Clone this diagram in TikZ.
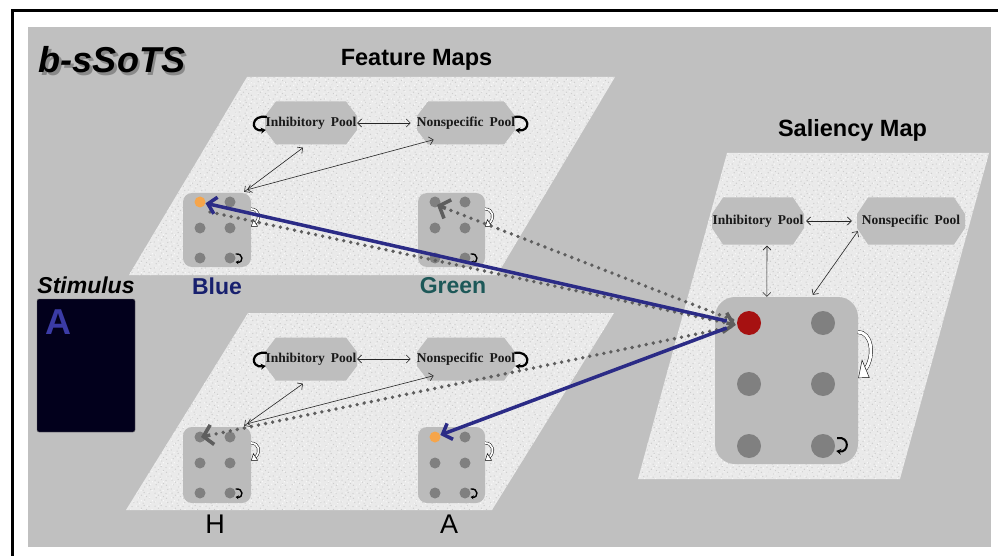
\documentclass[tikz,border=0pt]{standalone}
\usepackage{fontspec}
\setmainfont{Liberation Serif}
\newfontfamily\arialfont{Liberation Sans}
\usetikzlibrary{arrows.meta,calc,patterns}

\definecolor{bggray}{HTML}{C0C0C0}
\definecolor{paper}{HTML}{EAEAEA}
\definecolor{speckdark}{HTML}{CDCDCD}
\definecolor{specklight}{HTML}{FAFAFA}
\definecolor{poolgray}{HTML}{BEBEBE}
\definecolor{boxgray}{HTML}{BBBBBB}
\definecolor{dotgray}{HTML}{808080}
\definecolor{activeorange}{HTML}{F6A54B}
\definecolor{winred}{HTML}{A61111}
\definecolor{navyline}{HTML}{2B2B86}
\definecolor{dotline}{HTML}{5E5E5E}
\definecolor{bluelabel}{HTML}{18206E}
\definecolor{greenlabel}{HTML}{1D5858}
\definecolor{stimbg}{HTML}{02001C}
\definecolor{stimletter}{HTML}{3B3BA6}

% speckle tiles for the granite planes
\pgfdeclarepatternformonly{granitedark}{\pgfqpoint{0pt}{0pt}}{\pgfqpoint{17pt}{13pt}}{\pgfqpoint{17pt}{13pt}}{%
  \foreach \px/\py in {1.3/2.1,5.7/9.4,9.2/4.3,13.8/11.2,15.6/1.7,3.4/6.8,11.1/8.0,7.5/0.9,14.2/6.1,2.2/11.6,8.6/12.3}{%
    \pgfpathcircle{\pgfqpoint{\px pt}{\py pt}}{0.7pt}}%
  \pgfusepath{fill}}
\pgfdeclarepatternformonly{granitelight}{\pgfqpoint{0pt}{0pt}}{\pgfqpoint{11pt}{19pt}}{\pgfqpoint{11pt}{19pt}}{%
  \foreach \px/\py in {2.1/3.3,7.4/1.2,9.8/8.7,4.6/12.5,1.2/16.9,8.3/15.4,5.5/6.4,10.2/18.1}{%
    \pgfpathcircle{\pgfqpoint{\px pt}{\py pt}}{0.75pt}}%
  \pgfusepath{fill}}

\tikzset{
  pooltext/.style={font=\fontsize{13.5}{15}\selectfont\bfseries, text=black!90, inner sep=0pt},
  unitbox/.style={fill=boxgray, rounded corners=9pt, inner sep=0pt},
  unit/.style={circle, fill=dotgray, inner sep=0pt, minimum size=11pt},
  bigunit/.style={circle, fill=dotgray, inner sep=0pt, minimum size=24pt},
  linkarrow/.style={draw=black!85, line width=0.6pt,
    {Straight Barb[length=4pt,width=8pt]}-{Straight Barb[length=4pt,width=8pt]}},
  selfloop/.style={line width=2.2pt, -{Stealth[length=5pt,width=6pt]}},
  smallloop/.style={line width=1.4pt, -{Stealth[length=3pt,width=4pt]}},
  bluearrow/.style={draw=navyline, line width=3.5pt,
    -{Straight Barb[length=8pt,width=17pt]}},
  dotlink/.style={draw=dotline, line width=3.8pt, line cap=round,
    dash pattern=on 0pt off 7.2pt},
  chevtip/.style={draw=dotline, solid, line width=3.6pt,
    -{Straight Barb[length=9pt,width=20pt]}},
  maplabel/.style={font=\arialfont\bfseries\fontsize{23}{27}\selectfont, inner sep=0pt},
  title/.style={font=\arialfont\bfseries\fontsize{23.5}{28}\selectfont, inner sep=0pt},
}

% granite map plane: x0, y0, width, height, skew of the lower edge
\newcommand\granite[5]{%
  \path[fill=paper] (#1,#2) -- ({#1+#3},#2) -- ({#1+#3-#5},{#2+#4}) -- ({#1-#5},{#2+#4}) -- cycle;
  \path[pattern=granitedark, pattern color=speckdark] (#1,#2) -- ({#1+#3},#2) -- ({#1+#3-#5},{#2+#4}) -- ({#1-#5},{#2+#4}) -- cycle;
  \path[pattern=granitelight, pattern color=specklight] (#1,#2) -- ({#1+#3},#2) -- ({#1+#3-#5},{#2+#4}) -- ({#1-#5},{#2+#4}) -- cycle;}

% octagonal pool: name, cx, cy, half width, half height, width, label
\newcommand\poolshape[7]{%
  \fill[poolgray] ({#2-#4},{#3-7}) -- ({#2-#4+11},{#3-#5}) -- ({#2+#4-11},{#3-#5})
    -- ({#2+#4},{#3-7}) -- ({#2+#4},{#3+7}) -- ({#2+#4-11},{#3+#5})
    -- ({#2-#4+11},{#3+#5}) -- ({#2-#4},{#3+7}) -- cycle;
  \node[pooltext, minimum width=#6, minimum height=2*#5] (#1) at (#2,#3) {#7};}

% hollow recurrent arrow beside a unit block: x, y, xscale, yscale, gap
\newcommand\hollowcurl[5]{%
  \begin{scope}[shift={(#1,#2)}, xscale=#3, yscale=#4]
    \draw[line width=0.45pt, double=white, double distance=#5] (0,0) .. controls (8,0) and (10,8) .. (4.5,12.7);
    \filldraw[fill=white, draw=black, line width=0.45pt] (6.6,15.7) -- (2.4,9.7) -- (0.3,15.8) -- cycle;
  \end{scope}}

% dotted projection from one point to another, ending in a solid grey chevron
\newcommand\dotproj[2]{%
  \draw[dotlink] (#1) -- ($(#2)!9pt!(#1)$);
  \draw[chevtip] ($(#2)!9.5pt!(#1)$) -- (#2);}

\newcommand\inh{Inhibitory\hspace{0.45em}Pool}
\newcommand\nsp{Nonspecific\hspace{0.45em}Pool}

\begin{document}
\begin{tikzpicture}[x=1pt,y=-1pt]
\useasboundingbox (0,0) rectangle (998,556);
\fill[white] (0,0) rectangle (998,556);
\fill[bggray] (28,27) rectangle (991,547);
\draw[line width=2.6pt] (12.2,556) -- (12.2,10.7) -- (998,10.7);

\granite{247}{77}{368}{198}{118}
\granite{248}{313}{366}{197}{122}
\granite{727}{153}{262}{326}{89}

% titles
\node[font=\arialfont\bfseries\itshape\fontsize{36}{40}\selectfont, text=black!55, opacity=0.7, inner sep=0pt] at (114.5,62.5) {b-sSoTS};
\node[font=\arialfont\bfseries\itshape\fontsize{36}{40}\selectfont, inner sep=0pt] (model) at (112,60) {b-sSoTS};
\node[title] (ftitle) at (416.5,60) {Feature Maps};
\node[title] (stitle) at (852.5,130) {Saliency Map};

% stimulus
\node[font=\arialfont\bfseries\itshape\fontsize{23}{27}\selectfont, inner sep=0pt] (stimlabel) at (86,285) {Stimulus};
\node[fill=stimbg, draw=black!60, line width=0.4pt, rounded corners=2pt, minimum width=98pt, minimum height=133pt, inner sep=0pt] (stim) at (86,365.5) {};
\node[font=\arialfont\bfseries\fontsize{36}{40}\selectfont, text=stimletter, inner sep=0pt] (stimA) at (58,322) {A};

% map labels
\node[maplabel, text=bluelabel] (lblue) at (217,286) {Blue};
\node[maplabel, text=greenlabel] (lgreen) at (453,286) {Green};
\node[font=\arialfont\fontsize{27}{30}\selectfont, inner sep=0pt] (lh) at (215,524) {H};
\node[font=\arialfont\fontsize{27}{30}\selectfont, inner sep=0pt] (la) at (449,524) {A};

% ---------- colour feature map ----------
\poolshape{ip1}{311}{123}{46}{21.5}{92pt}{\inh}
\poolshape{np1}{466}{123}{49}{21.5}{98pt}{\nsp}
\node[unitbox, minimum width=68pt, minimum height=74pt] (bbox) at (217,230) {};
\node[unitbox, minimum width=67pt, minimum height=74pt] (gbox) at (451.5,230) {};
\node[unit, fill=activeorange] (b1) at (200,202) {};
\node[unit] (b2) at (230,202) {};
\node[unit] (b3) at (200,228) {};
\node[unit] (b4) at (230,228) {};
\node[unit] (b5) at (200,258) {};
\node[unit] (b6) at (230,258) {};
\node[unit] (g1) at (435,202) {};
\node[unit] (g2) at (465,202) {};
\node[unit] (g3) at (435,228) {};
\node[unit] (g4) at (465,228) {};
\node[unit] (g5) at (435,258) {};
\node[unit] (g6) at (465,258) {};

\draw[selfloop] ($(ip1.west)+(2,-6)$) .. controls +(-16,-3) and +(-16,2) .. ($(ip1.west)+(1,7)$);
\draw[selfloop] ($(np1.east)+(-1,-6)$) .. controls +(16,-3) and +(16,2) .. ($(np1.east)+(0,7)$);
\draw[linkarrow, shorten >=6pt] (ip1.east) -- (np1.west);
\draw[linkarrow] ($(ip1.south)+(-8,3)$) -- ($(bbox.north east)+(-7,-1)$);
\draw[linkarrow] ($(np1.south west)+(17,-5)$) -- ($(bbox.north east)+(-4,-3)$);
\hollowcurl{251}{209}{1}{1.1}{1.8pt}
\hollowcurl{485}{209}{1}{1.1}{1.8pt}
\draw[smallloop] ($(b6.east)+(0,-4)$) .. controls +(8,-1) and +(8,1) .. ($(b6.east)+(0,4)$);
\draw[smallloop] ($(g6.east)+(0,-4)$) .. controls +(8,-1) and +(8,1) .. ($(g6.east)+(0,4)$);

% ---------- letter feature map ----------
\poolshape{ip2}{311}{359}{46}{21.5}{92pt}{\inh}
\poolshape{np2}{466}{359}{49}{21.5}{98pt}{\nsp}
\node[unitbox, minimum width=68pt, minimum height=76pt] (hbox) at (217,465) {};
\node[unitbox, minimum width=67pt, minimum height=76pt] (abox) at (451.5,465) {};
\node[unit] (h1) at (200,437) {};
\node[unit] (h2) at (230,437) {};
\node[unit] (h3) at (200,463) {};
\node[unit] (h4) at (230,463) {};
\node[unit] (h5) at (200,493) {};
\node[unit] (h6) at (230,493) {};
\node[unit, fill=activeorange] (a1) at (435,437) {};
\node[unit] (a2) at (465,437) {};
\node[unit] (a3) at (435,463) {};
\node[unit] (a4) at (465,463) {};
\node[unit] (a5) at (435,493) {};
\node[unit] (a6) at (465,493) {};

\draw[selfloop] ($(ip2.west)+(2,-6)$) .. controls +(-16,-3) and +(-16,2) .. ($(ip2.west)+(1,7)$);
\draw[selfloop] ($(np2.east)+(-1,-6)$) .. controls +(16,-3) and +(16,2) .. ($(np2.east)+(0,7)$);
\draw[linkarrow, shorten >=6pt] (ip2.east) -- (np2.west);
\draw[linkarrow] ($(ip2.south)+(-8,3)$) -- ($(hbox.north east)+(-7,-1)$);
\draw[linkarrow] ($(np2.south west)+(17,-5)$) -- ($(hbox.north east)+(-4,-3)$);
\hollowcurl{251}{443}{1}{1.1}{1.8pt}
\hollowcurl{485}{443}{1}{1.1}{1.8pt}
\draw[smallloop] ($(h6.east)+(0,-4)$) .. controls +(8,-1) and +(8,1) .. ($(h6.east)+(0,4)$);
\draw[smallloop] ($(a6.east)+(0,-4)$) .. controls +(8,-1) and +(8,1) .. ($(a6.east)+(0,4)$);

% ---------- saliency map ----------
\poolshape{ip3}{758}{221}{46}{23.5}{92pt}{\inh}
\poolshape{np3}{911}{221}{54}{23.5}{108pt}{\nsp}
\node[fill=boxgray, rounded corners=20pt, inner sep=0pt, minimum width=143pt, minimum height=167pt] (sbox) at (786.5,380.5) {};
\node[bigunit, fill=winred] (s1) at (749,323) {};
\node[bigunit] (s2) at (823,323) {};
\node[bigunit] (s3) at (749,384) {};
\node[bigunit] (s4) at (823,384) {};
\node[bigunit] (s5) at (749,446) {};
\node[bigunit] (s6) at (823,446) {};

\draw[linkarrow, shorten >=5pt, shorten <=2pt] (ip3.east) -- (np3.west);
\draw[linkarrow] ($(ip3.south)+(9,1)$) -- ($(sbox.north west)+(52,0)$);
\draw[linkarrow] ($(np3.south west)+(1,-13.5)$) -- ($(sbox.north west)+(98,-2)$);
\hollowcurl{858}{332}{1.7}{2.9}{3pt}
\draw[selfloop, line width=2pt] ($(s6.east)+(2,-8)$) .. controls +(13,-2) and +(13,2) .. ($(s6.east)+(1,5)$);

% ---------- feature-to-saliency connections ----------
\coordinate (fromblue) at (210,212);
\coordinate (salin) at ($(s1.west)+(-1,2)$);
\coordinate (salout1) at ($(s1.west)+(-4,-3)$);
\coordinate (salout2) at ($(s1.west)+(-6,4)$);
\coordinate (greenin) at ($(g1.center)+(2,3)$);
\coordinate (hin) at ($(h1.center)+(1,0)$);
\dotproj{fromblue}{salin}
\dotproj{salout1}{greenin}
\dotproj{salout2}{hin}
\draw[bluearrow] ($(s1.west)+(-10,-2)$) -- (b1);
\draw[bluearrow] ($(s1.west)+(-10,5)$) -- (a1);
\end{tikzpicture}
\end{document}
